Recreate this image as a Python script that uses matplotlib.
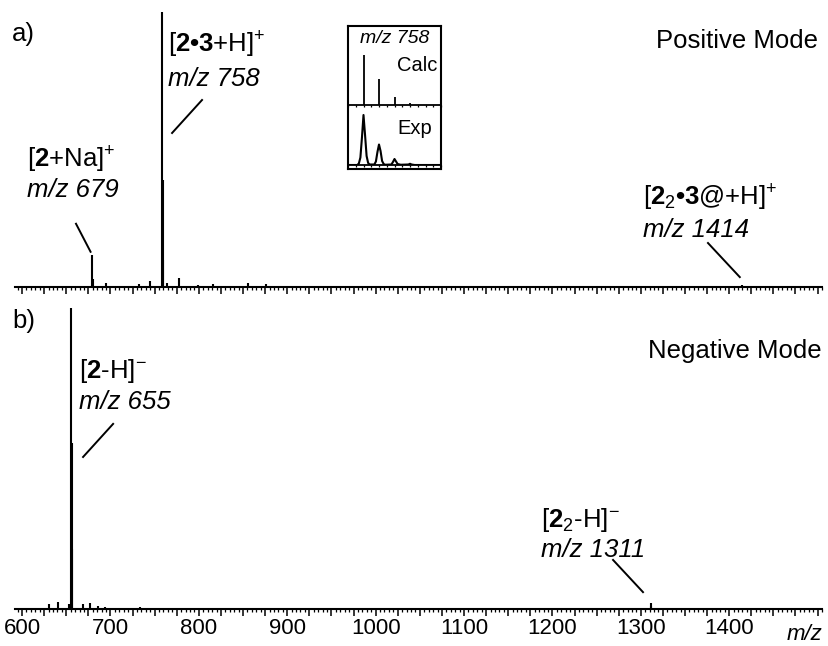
import numpy as np
import matplotlib
matplotlib.use("Agg")
import matplotlib.pyplot as plt
from matplotlib.ticker import MultipleLocator

# ###########################################################
# Global parameters and data
# ###########################################################

plt.rcParams["font.family"] = ["Liberation Sans", "DejaVu Sans"]
plt.rcParams["mathtext.fontset"] = "custom"
plt.rcParams["mathtext.rm"] = "Liberation Sans"
plt.rcParams["mathtext.it"] = "Liberation Sans:italic"
plt.rcParams["mathtext.bf"] = "Liberation Sans:bold"

# positive mode stick spectrum (m/z, relative intensity %)
pos_mz = [666, 679, 680, 695, 732, 745, 758, 759, 760, 764, 778, 799, 816, 856, 876, 1336, 1414, 1435]
pos_int = [0.4, 11.5, 3.0, 1.5, 1.1, 2.2, 100, 39, 10, 1.5, 3.3, 0.7, 1.1, 1.5, 1.1, 0.4, 0.6, 0.4]

# negative mode stick spectrum
neg_mz = [630, 641, 653, 655, 656, 657, 669, 677, 686, 694, 702, 733, 1311, 1312]
neg_int = [1.7, 2.3, 1.7, 100, 55, 20, 1.7, 2.0, 1.0, 0.7, 0.3, 0.7, 2.0, 1.0]

# inset: calculated isotope pattern of m/z 758
calc_mz = [758, 759, 760, 761]
calc_int = [100, 53, 17, 4]

# inset: experimental profile of m/z 758
exp_mz = [757.0, 757.6, 757.7, 757.8, 757.9, 758.0, 758.1, 758.2, 758.3, 758.4,
          758.7, 758.8, 758.9, 759.0, 759.1, 759.2, 759.3, 759.4,
          759.8, 759.9, 760.0, 760.1, 760.2, 760.4,
          760.9, 761.0, 761.1, 761.3, 763.0]
exp_int = [0, 0, 3, 15, 55, 100, 60, 18, 4, 1,
           1, 7, 26, 41, 28, 8, 2, 0.5,
           1, 6, 12, 7, 2, 0.5,
           1, 2.5, 1, 0, 0]

xlim = (592, 1505)
label_max = 1400

W, H = 829, 646


def box(left, top, right, bottom):
    # pixel box -> figure fraction rect
    return [left / W, 1 - bottom / H, (right - left) / W, (bottom - top) / H]


# ###########################################################
# Figure and main panels
# ###########################################################

fig = plt.figure(figsize=(W / 100, H / 100), dpi=100)
ax_a = fig.add_axes(box(15, 12, 822, 287))
ax_b = fig.add_axes(box(15, 308, 822, 609))

for ax in (ax_a, ax_b):
    ax.set_xlim(*xlim)
    ax.set_ylim(0, 100)
    for s in ("left", "right", "top"):
        ax.spines[s].set_visible(False)
    ax.spines["bottom"].set_linewidth(1.5)
    ax.set_yticks([])
    ax.xaxis.set_major_locator(MultipleLocator(25))
    ax.xaxis.set_minor_locator(MultipleLocator(5))
    ax.tick_params(axis="x", which="major", direction="out", length=5, width=1.1, pad=1.5, labelsize=16)
    ax.tick_params(axis="x", which="minor", direction="out", length=2.3, width=0.9)

ax_a.tick_params(axis="x", labelbottom=False)
ax_b.xaxis.set_major_formatter(
    plt.FuncFormatter(lambda v, p: f"{v:.0f}" if (v % 100 == 0 and v <= label_max) else ""))

ax_a.vlines(pos_mz, 0, pos_int, color="black", linewidth=1.5, clip_on=False)
ax_b.vlines(neg_mz, 0, neg_int, color="black", linewidth=1.5, clip_on=False)

fs = 18.5
line_kw = dict(color="black", linewidth=1.4)
it_kw = dict(fontsize=fs, style="italic", va="baseline")

# panel a labels
ax_a.text(588.5, 89.3, "a)", fontsize=fs, va="baseline")
ax_a.text(1500.5, 87.0, "Positive Mode", fontsize=fs, ha="right", va="baseline")
ax_a.text(765, 85.1, r"[$\mathbf{2•3}$+H]$^{+}$", fontsize=fs, va="baseline")
ax_a.text(765, 73.1, "m/z 758", **it_kw)
ax_a.plot([769.7, 803.6], [56.0, 68.0], **line_kw)
ax_a.text(605.5, 43.3, r"[$\mathbf{2}$+Na]$^{+}$", fontsize=fs, va="baseline")
ax_a.text(605.5, 32.7, "m/z 679", **it_kw)
ax_a.plot([661.0, 677.5], [23.0, 12.8], **line_kw)
ax_a.text(1302.5, 29.5, r"[$\mathbf{2}_{2}\mathbf{•3}$@+H]$^{+}$", fontsize=fs, va="baseline")
ax_a.text(1302.5, 18.2, "m/z 1414", **it_kw)
ax_a.plot([1376, 1412], [16.0, 3.6], **line_kw)

# panel b labels
ax_b.text(588.5, 93.4, "b)", fontsize=fs, va="baseline")
ax_b.text(1505, 83.4, "Negative Mode", fontsize=fs, ha="right", va="baseline")
ax_b.text(664.5, 76.7, r"[$\mathbf{2}$-H]$^{-}$", fontsize=fs, va="baseline")
ax_b.text(664.5, 66.4, "m/z 655", **it_kw)
ax_b.plot([669, 703], [50.5, 61.5], **line_kw)
ax_b.text(1187, 27.3, r"[$\mathbf{2}_{2}$-H]$^{-}$", fontsize=fs, va="baseline")
ax_b.text(1187, 17.3, "m/z 1311", **it_kw)
ax_b.plot([1268.6, 1302.5], [16.3, 5.6], **line_kw)

fig.text(822 / W, 1 - 640 / H, "m/z", fontsize=16, style="italic", ha="right", va="baseline")

# ###########################################################
# Inset with calculated and experimental isotope pattern
# ###########################################################

frame = fig.add_axes(box(348, 26, 441, 169))
frame.set_xticks([])
frame.set_yticks([])
for s in frame.spines.values():
    s.set_linewidth(1.5)
frame.patch.set_alpha(0)

ax_c = fig.add_axes(box(348, 26, 441, 105))
ax_e = fig.add_axes(box(348, 105, 441, 165))
for ax in (ax_c, ax_e):
    ax.set_xlim(757, 763)
    ax.patch.set_alpha(0)
    for s in ("left", "right", "top"):
        ax.spines[s].set_visible(False)
    ax.spines["bottom"].set_linewidth(1.3)
    ax.set_yticks([])
    ax.xaxis.set_major_locator(MultipleLocator(0.5))
    ax.tick_params(axis="x", direction="out", length=1.6, width=0.9, labelbottom=False)

ax_c.set_ylim(0, 158)
ax_c.vlines(calc_mz, 0, calc_int, color="black", linewidth=1.3)
ax_e.set_ylim(0, 120)
ax_e.plot(exp_mz, exp_int, color="black", linewidth=1.5)

ax_c.text(0.88, 0.785, "m/z 758", fontsize=14, style="italic", ha="right", va="baseline", transform=ax_c.transAxes)
ax_c.text(0.96, 0.43, "Calc", fontsize=14.5, ha="right", va="baseline", transform=ax_c.transAxes)
ax_e.text(0.527, 0.517, "Exp", fontsize=14.5, ha="left", va="baseline", transform=ax_e.transAxes)

fig.savefig("out.png", dpi=100)
